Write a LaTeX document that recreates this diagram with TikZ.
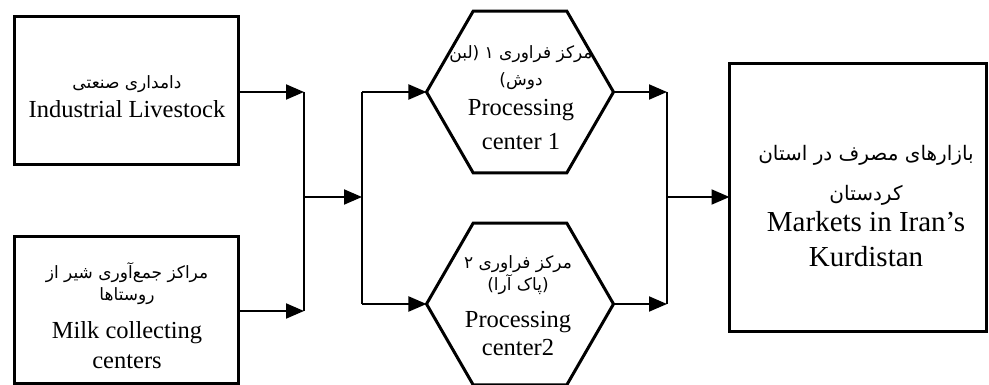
\documentclass[tikz,border=0pt]{standalone}
\usepackage{fontspec}
\setmainfont{Liberation Serif}
\newfontfamily\fa[Script=Arabic]{DejaVu Sans}
\TeXXeTstate=1
\usetikzlibrary{shapes.geometric,arrows.meta}
\newcommand{\fsz}[1]{\fa\fontsize{#1}{#1}\selectfont}
\begin{document}
\begin{tikzpicture}[x=1pt,y=-1pt,
  boxst/.style={draw,line width=3pt,rectangle,inner sep=0pt,outer sep=0pt},
  hexst/.style={draw,line width=3pt,regular polygon,regular polygon sides=6,minimum size=187pt,inner sep=0pt,outer sep=0pt},
  txt/.style={align=center,inner sep=0pt,font=\fontsize{24.5}{28}\selectfont},
  txtbig/.style={align=center,inner sep=0pt,font=\fontsize{29}{35}\selectfont},
  ln/.style={line width=2pt},
  arr/.style={line width=2pt,-{Triangle[length=18pt,width=15pt]}}]
\useasboundingbox (0,0) rectangle (989,385);
% shapes
\node[boxst,minimum width=224pt,minimum height=148pt] (b1) at (126.5,90.5) {};
\node[boxst,minimum width=224pt,minimum height=147pt] (b2) at (126.5,310) {};
\node[hexst] (h1) at (520,92) {};
\node[hexst] (h2) at (520,304) {};
\node[boxst,minimum width=257pt,minimum height=268pt] (b3) at (858,197.5) {};
% texts
\node[txt] (t1) at (127,97) {{\fsz{17}\beginR دامداری صنعتی\endR}\\[1pt] Industrial Livestock};
\node[txt] (t2) at (127,316) {{\fsz{17}\beginR مراکز جمع^^^^200cآوری شیر از\endR}\\[-6pt]{\fsz{17}\beginR روستاها\endR}\\[10pt] Milk collecting\\[2pt] centers};
\node[txt] (th1) at (521,98) {{\fsz{17}\beginR مرکز فراوری ۱ (لبن\endR}\\[-1pt]{\fsz{17}\beginR دوش)\endR}\\[2pt] Processing\\[6pt] center 1};
\node[txt] (th2) at (518,306) {{\fsz{17}\beginR مرکز فراوری ۲\endR}\\[-6pt]{\fsz{17}\beginR (پاک آرا)\endR}\\[9pt] Processing\\[0pt] center2};
\node[txtbig] (t3) at (866,206) {{\fsz{20}\beginR بازارهای مصرف در استان\endR}\\[5pt]{\fsz{20}\beginR کردستان\endR}\\[-4pt] Markets in Iran’s\\ Kurdistan};
% junctions
\coordinate (ja) at (304,92);
\coordinate (jb) at (304,311);
\coordinate (jm) at (304,197);
\coordinate (ka) at (362,92);
\coordinate (kb) at (362,304);
\coordinate (ma) at (667,92);
\coordinate (mb) at (667,304);
\coordinate (mm) at (667,197);
% connectors
\draw[arr] (b1.east |- ja) -- (ja);
\draw[arr] (b2.east |- jb) -- (jb);
\draw[ln] (ja) -- (jb);
\draw[arr] (jm) -- (jm -| ka);
\draw[ln] (ka) -- (kb);
\draw[arr] (ka) -- (h1.west);
\draw[arr] (kb) -- (h2.west);
\draw[arr] (h1.east) -- (ma);
\draw[arr] (h2.east) -- (mb);
\draw[ln] (ma) -- (mb);
\draw[arr] (mm) -- (b3.west |- mm);
\end{tikzpicture}
\end{document}
